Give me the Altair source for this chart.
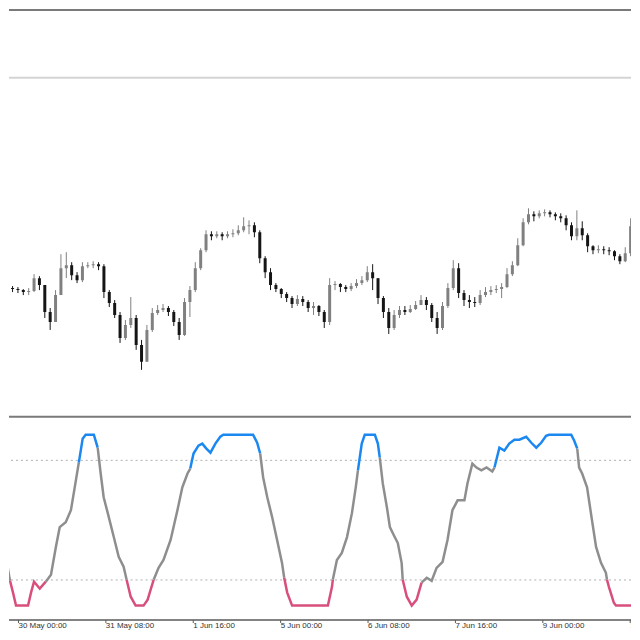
import altair as alt
import pandas as pd
import numpy as np

# ---------------- data ----------------
# hours counted from 30 May 00:00 (2-hour bars)
bar_hours = list(range(-6, 227, 2))

opens = [1.1627,1.1628,1.1627,1.1626,1.1624,1.1625,1.1638,1.1631,1.1604,1.1594,
         1.1621,1.1648,1.1651,1.1641,1.1636,1.1650,1.1651,1.1652,1.1650,1.1624,
         1.1613,1.1601,1.1578,1.1591,1.1598,1.1571,1.1554,1.1586,1.1603,1.1606,
         1.1608,1.1604,1.1594,1.1581,1.1614,1.1626,1.1648,1.1666,1.1682,1.1680,
         1.1682,1.1680,1.1682,1.1683,1.1686,1.1690,1.1691,1.1684,1.1658,1.1644,
         1.1631,1.1627,1.1622,1.1618,1.1612,1.1617,1.1614,1.1608,1.1610,1.1604,
         1.1594,1.1631,1.1632,1.1629,1.1627,1.1630,1.1633,1.1636,1.1644,1.1638,
         1.1618,1.1604,1.1588,1.1601,1.1606,1.1604,1.1607,1.1611,1.1616,1.1611,
         1.1598,1.1588,1.1610,1.1628,1.1648,1.1623,1.1616,1.1614,1.1613,1.1621,
         1.1624,1.1626,1.1627,1.1629,1.1642,1.1651,1.1671,1.1694,1.1702,1.1700,
         1.1703,1.1704,1.1702,1.1700,1.1698,1.1691,1.1680,1.1688,1.1681,1.1670,
         1.1666,1.1667,1.1666,1.1665,1.1660,1.1655,1.1663]

closes = [1.1628,1.1627,1.1626,1.1624,1.1625,1.1638,1.1631,1.1604,1.1594,1.1621,
          1.1648,1.1651,1.1641,1.1636,1.1650,1.1651,1.1652,1.1650,1.1624,1.1613,
          1.1601,1.1578,1.1591,1.1598,1.1571,1.1554,1.1586,1.1603,1.1606,1.1608,
          1.1604,1.1594,1.1581,1.1614,1.1626,1.1648,1.1666,1.1682,1.1680,1.1682,
          1.1680,1.1682,1.1683,1.1686,1.1690,1.1691,1.1684,1.1658,1.1644,1.1631,
          1.1627,1.1622,1.1618,1.1612,1.1617,1.1614,1.1608,1.1610,1.1604,1.1594,
          1.1631,1.1632,1.1629,1.1627,1.1630,1.1633,1.1636,1.1644,1.1638,1.1618,
          1.1604,1.1588,1.1601,1.1606,1.1604,1.1607,1.1611,1.1616,1.1611,1.1598,
          1.1588,1.1610,1.1628,1.1648,1.1623,1.1616,1.1614,1.1613,1.1621,1.1624,
          1.1626,1.1627,1.1629,1.1642,1.1651,1.1671,1.1694,1.1702,1.1700,1.1703,
          1.1704,1.1702,1.1700,1.1698,1.1691,1.1680,1.1688,1.1681,1.1670,1.1666,
          1.1667,1.1666,1.1665,1.1660,1.1655,1.1663,1.1690]

highs = [1.1631,1.1630,1.1629,1.1627,1.1628,1.1642,1.1640,1.1631,1.1608,1.1626,
         1.1662,1.1664,1.1654,1.1644,1.1654,1.1654,1.1655,1.1654,1.1652,1.1626,
         1.1616,1.1604,1.1596,1.1619,1.1601,1.1576,1.1591,1.1608,1.1611,1.1612,
         1.1610,1.1606,1.1598,1.1618,1.1630,1.1654,1.1668,1.1686,1.1685,1.1685,
         1.1684,1.1685,1.1687,1.1691,1.1699,1.1696,1.1694,1.1686,1.1660,1.1648,
         1.1633,1.1628,1.1624,1.1620,1.1621,1.1620,1.1616,1.1614,1.1611,1.1606,
         1.1638,1.1635,1.1633,1.1631,1.1633,1.1637,1.1640,1.1650,1.1652,1.1638,
         1.1620,1.1608,1.1606,1.1610,1.1610,1.1611,1.1615,1.1621,1.1619,1.1613,
         1.1604,1.1614,1.1633,1.1656,1.1653,1.1626,1.1621,1.1619,1.1626,1.1629,
         1.1630,1.1631,1.1633,1.1648,1.1655,1.1678,1.1698,1.1708,1.1705,1.1706,
         1.1707,1.1706,1.1704,1.1703,1.1701,1.1694,1.1706,1.1695,1.1683,1.1671,
         1.1671,1.1670,1.1669,1.1666,1.1662,1.1669,1.1698]

lows = [1.1625,1.1624,1.1623,1.1621,1.1621,1.1624,1.1626,1.1598,1.1586,1.1594,
        1.1621,1.1638,1.1636,1.1633,1.1634,1.1648,1.1648,1.1646,1.1618,1.1609,
        1.1598,1.1573,1.1576,1.1588,1.1566,1.1546,1.1554,1.1584,1.1601,1.1604,
        1.1600,1.1590,1.1576,1.1580,1.1599,1.1624,1.1646,1.1664,1.1676,1.1678,
        1.1676,1.1678,1.1679,1.1681,1.1684,1.1682,1.1679,1.1653,1.1638,1.1626,
        1.1624,1.1618,1.1614,1.1608,1.1610,1.1610,1.1604,1.1601,1.1600,1.1588,
        1.1591,1.1626,1.1624,1.1624,1.1625,1.1628,1.1631,1.1634,1.1626,1.1612,
        1.1598,1.1582,1.1586,1.1598,1.1601,1.1603,1.1606,1.1611,1.1606,1.1594,
        1.1582,1.1586,1.1608,1.1626,1.1618,1.1610,1.1608,1.1609,1.1611,1.1619,
        1.1621,1.1623,1.1618,1.1628,1.1640,1.1650,1.1670,1.1692,1.1695,1.1698,
        1.1700,1.1699,1.1696,1.1694,1.1686,1.1676,1.1676,1.1676,1.1664,1.1662,
        1.1663,1.1662,1.1661,1.1656,1.1652,1.1654,1.1660]

hline_price = [1.1839]

# oscillator samples (hour position, value 0..100, colour zone)
osc_hours = [-6.4,-4.6,-3.5,-3.1,-2.0,-0.9,3.5,4.6,5.7,7.8,10.0,
             11.9,13.7,15.1,17.3,19.2,20.6,22.1,
             23.5,24.6,27.6,29.0,
             30.1,31.2,32.7,34.9,36.7,38.5,39.6,
             41.1,42.9,45.8,47.3,48.4,49.5,
             51.3,53.1,55.7,58.2,60.0,61.9,62.9,
             64.1,65.9,67.3,68.8,70.3,72.1,73.9,75.0,85.9,87.4,88.5,
             89.6,91.1,92.9,94.7,96.5,97.3,
             98.4,100.2,113.3,114.8,115.1,
             116.6,118.4,120.3,122.1,123.5,124.3,
             125.7,126.8,130.5,131.6,132.3,
             133.4,134.9,136.0,137.4,138.9,140.3,140.7,
             142.2,144.0,145.8,147.6,
             149.5,151.3,153.1,155.3,157.1,158.9,160.8,163.3,164.4,166.2,167.7,169.5,171.4,173.5,174.3,
             176.1,177.9,179.7,181.6,183.4,185.9,187.8,189.6,191.4,193.2,194.3,202.4,203.5,204.6,
             205.3,206.4,208.2,210.0,211.5,213.3,215.1,215.5,
             216.2,218.0,218.8,225.4,226.5,226.9,
             227.2,228.5]

osc_values = [36.6,28.5,18.0,14.5,7.6,0,0,7.6,14.0,9.9,14.0,
              18.0,34.3,45.9,48.8,55.8,69.2,83.7,
              97.7,100,100,92.4,
              77.3,63.4,54.1,40.1,28.5,22.7,15.1,
              5.2,0,0,3.5,9.3,15.1,
              22.1,26.7,38.4,55.8,69.2,77.3,80.2,
              89.0,93.6,94.8,91.9,89.5,94.8,98.8,100,100,95.3,89.0,
              75.0,63.4,51.7,38.4,25.0,16.3,
              7.6,0,0,11.0,15.1,
              26.7,30.8,40.1,54.1,69.2,79.1,
              94.8,100,100,94.8,86.6,
              71.5,57.6,45.9,41.3,36.6,25.0,15.1,
              5.2,0,3.5,13.4,
              16.3,14.5,22.1,25.6,38.4,55.8,61.6,61.6,71.5,83.1,80.8,79.1,80.8,78.5,80.8,
              92.4,90.7,94.8,97.1,97.1,98.8,95.3,92.4,95.3,99.4,100,100,96.5,91.9,
              80.8,77.3,69.2,50.0,34.3,25.0,19.2,15.1,
              11.0,1.7,0,0,11.0,15.1,
              19.2,30.0]

osc_zones = list("MMMM" "LLLLLLL" "MMMMMMM" "HHHH" "MMMMMMM" "LLLLLL" "MMMMMMM"
                 "HHHHHHHHHHH" "MMMMMM" "LLLLL" "MMMMMM" "HHHHH" "MMMMMMM" "LLLL"
                 "MMMMMMMMMMMMMMM" "HHHHHHHHHHHHHH" "MMMMMMMM" "LLLLLL" "MM")

osc_levels = [85, 15]

tick_hours = [0, 32, 64, 96, 128, 160, 192, 224]
tick_labels = ["30 May 00:00", "31 May 08:00", "1 Jun 16:00", "5 Jun 00:00",
               "6 Jun 08:00", "7 Jun 16:00", "9 Jun 00:00", "12 Jun 08:00"]

# ---------------- tables ----------------
candles = pd.DataFrame(dict(h=bar_hours, o=opens, hi=highs, lo=lows, c=closes))
candles["body_lo"] = candles[["o", "c"]].min(axis=1)
candles["body_hi"] = candles[["o", "c"]].max(axis=1)
candles["dir"] = np.where(candles["c"] >= candles["o"], "up", "down")

rows = []
seg = 0
for i, (h, v, z) in enumerate(zip(osc_hours, osc_values, osc_zones)):
    if i > 0 and z != osc_zones[i - 1]:
        seg += 1
        rows.append(dict(h=osc_hours[i - 1], v=osc_values[i - 1], zone=z, seg=seg))
    rows.append(dict(h=h, v=v, zone=z, seg=seg))
osc = pd.DataFrame(rows)

ticks = pd.DataFrame(dict(h=tick_hours, label=tick_labels))

# ---------------- chart ----------------
W = 624
H1 = 408      # price panel
H2 = 216      # oscillator panel incl. time scale
AXIS_Y = 205  # time-scale line inside panel 2

xscale = alt.Scale(domain=[-3.47, 224.29], nice=False, zero=False)
pscale = alt.Scale(domain=[1.15, 1.1908], nice=False, zero=False)
oscale = alt.Scale(domain=[-14.88, 111.14], nice=False, zero=False)

dir_color = alt.Color("dir:N", scale=alt.Scale(domain=["up", "down"],
                                               range=["#808080", "#151515"]), legend=None)

one = pd.DataFrame({"a": [0]})

top_line = alt.Chart(one).mark_rule(color="#7a7a7a", strokeWidth=2).encode(
    x=alt.value(0), x2=alt.value(W), y=alt.value(1))
hline = alt.Chart(pd.DataFrame({"p": hline_price})).mark_rule(
    color="#d4d4d4", strokeWidth=2).encode(
    y=alt.Y("p:Q", scale=pscale, axis=None))

wick = alt.Chart(candles).mark_rule(strokeWidth=1, clip=True).encode(
    x=alt.X("h:Q", scale=xscale, axis=None),
    y=alt.Y("lo:Q", scale=pscale, axis=None),
    y2="hi:Q",
    color=dir_color)
body = alt.Chart(candles).mark_bar(size=3, clip=True).encode(
    x=alt.X("h:Q", scale=xscale, axis=None),
    y=alt.Y("body_lo:Q", scale=pscale, axis=None),
    y2="body_hi:Q",
    color=dir_color)

panel1 = alt.layer(top_line, hline, wick, body).properties(width=W, height=H1)

sep_line = alt.Chart(one).mark_rule(color="#7a7a7a", strokeWidth=2).encode(
    x=alt.value(0), x2=alt.value(W), y=alt.value(1))
axis_line = alt.Chart(one).mark_rule(color="#5a5a5a", strokeWidth=1.5).encode(
    x=alt.value(0), x2=alt.value(W), y=alt.value(AXIS_Y))
levels = alt.Chart(pd.DataFrame({"lv": osc_levels})).mark_rule(
    color="#b0b0b0", strokeWidth=1, strokeDash=[2, 3]).encode(
    y=alt.Y("lv:Q", scale=oscale, axis=None))
osc_line = alt.Chart(osc).mark_line(strokeWidth=2.5, clip=True).encode(
    x=alt.X("h:Q", scale=xscale, axis=None),
    y=alt.Y("v:Q", scale=oscale, axis=None),
    color=alt.Color("zone:N", scale=alt.Scale(domain=["H", "M", "L"],
                                              range=["#1a88f0", "#8e8e8e", "#d94f7c"]),
                    legend=None),
    detail="seg:N",
    order="h:Q")
tick_marks = alt.Chart(ticks).mark_rule(color="#5a5a5a", strokeWidth=1, clip=True).encode(
    x=alt.X("h:Q", scale=xscale, axis=None),
    y=alt.value(AXIS_Y), y2=alt.value(AXIS_Y + 3))
tick_text = alt.Chart(ticks).mark_text(
    align="left", baseline="top", font="Liberation Sans", fontSize=8,
    color="#333333", clip=True, dx=0).encode(
    x=alt.X("h:Q", scale=xscale, axis=None),
    y=alt.value(AXIS_Y + 2),
    text="label:N")

panel2 = alt.layer(levels, sep_line, axis_line, osc_line, tick_marks, tick_text).properties(
    width=W, height=H2)

chart = alt.vconcat(panel1, panel2, spacing=0).resolve_scale(
    color="independent", x="independent", y="independent").properties(
    padding=0, background="white").configure_view(stroke=None)

chart.save("out.html", embed_options={"renderer": "svg", "actions": False})
